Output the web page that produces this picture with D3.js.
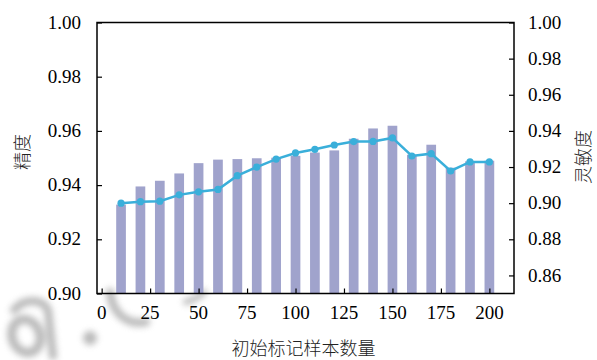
<!DOCTYPE html>
<html>
<head>
<meta charset="utf-8">
<script src="https://cdn.jsdelivr.net/npm/d3@7/dist/d3.min.js"></script>
</head>
<body style="margin:0">
<svg id="chart" width="597" height="360"></svg>
<script>
// Number of initially labelled samples
const sampleCounts = [10, 20, 30, 40, 50, 60, 70, 80, 90, 100, 110, 120, 130, 140, 150, 160, 170, 180, 190, 200];
// Precision (bars, left axis)
const precision = [0.9328, 0.9395, 0.9416, 0.9443, 0.9481, 0.9494, 0.9496, 0.9499, 0.9501, 0.9508,
                   0.9520, 0.9528, 0.9571, 0.9609, 0.9619, 0.9512, 0.9549, 0.9464, 0.9488, 0.9490];
// Sensitivity (line, right axis)
const sensitivity = [0.9000, 0.9008, 0.9011, 0.9046, 0.9063, 0.9076, 0.9152, 0.9200, 0.9244, 0.9278,
                     0.9298, 0.9322, 0.9341, 0.9342, 0.9361, 0.9261, 0.9274, 0.9178, 0.9228, 0.9228];
const xTicks = [0, 25, 50, 75, 100, 125, 150, 175, 200];
const leftTicks = [0.90, 0.92, 0.94, 0.96, 0.98, 1.00];
const rightTicks = [0.86, 0.88, 0.90, 0.92, 0.94, 0.96, 0.98, 1.00];
const xTitle = "初始标记样本数量";
const leftTitle = "精度";
const rightTitle = "灵敏度";

const svg = d3.select("#chart");
const m = { left: 97, right: 514, top: 22.5, bottom: 293.5 };

const x = d3.scaleLinear().domain([-2.4, 212.7]).range([m.left, m.right]);
const yL = d3.scaleLinear().domain([0.90, 1.00]).range([m.bottom, m.top]);
const yR = d3.scaleLinear().domain([0.85, 1.00]).range([m.bottom, m.top]);

const numFont = '"Times New Roman"';
const cjkFont = '"Noto Sans CJK SC"';
const barColor = "#a0a3cc";
const lineColor = "#3aafda";
const fmtX = d3.format("d");
const fmtY = d3.format(".2f");

// faint grey emblem in the lower-left corner
const defs = svg.append("defs");
defs.append("filter").attr("id", "soft")
  .attr("x", "-50%").attr("y", "-50%").attr("width", "200%").attr("height", "200%")
  .append("feGaussianBlur").attr("stdDeviation", 3);
const emblem = svg.append("g").attr("filter", "url(#soft)").attr("opacity", 0.6)
  .attr("stroke", "#8c8c8c").attr("fill", "none").attr("stroke-linecap", "round");
emblem.append("ellipse")
  .attr("cx", 26).attr("cy", 336).attr("rx", 14).attr("ry", 17)
  .attr("transform", "rotate(-20, 26, 336)")
  .attr("stroke-width", 9);
emblem.append("path").attr("d", "M14,310 C24,298 42,298 48,310 L53,356").attr("stroke-width", 8);
emblem.append("circle").attr("cx", 90).attr("cy", 338).attr("r", 7)
  .attr("fill", "#8c8c8c").attr("stroke", "none");
emblem.append("path").attr("d", "M110,292 C112,312 126,326 146,322").attr("stroke-width", 8);
emblem.append("path").attr("d", "M186,302 C194,300 200,296 204,292").attr("stroke-width", 6);

// bars
const bw = x(5) - x(0);
svg.append("g").selectAll("rect")
  .data(sampleCounts)
  .join("rect")
  .attr("x", (d) => x(d) - bw / 2)
  .attr("width", bw)
  .attr("y", (d, i) => yL(precision[i]))
  .attr("height", (d, i) => m.bottom - yL(precision[i]))
  .attr("fill", barColor);

// axes: tick marks from d3 axes, labels placed from the same scales
const tickLen = 5;
function ticksOnly(g) {
  g.select(".domain").remove();
  g.selectAll(".tick text").remove();
  g.selectAll(".tick line").attr("stroke", "#000").attr("stroke-width", 1.2);
}
svg.append("g").attr("transform", `translate(0,${m.bottom})`)
  .call(d3.axisBottom(x).tickValues(xTicks).tickSize(-tickLen)).call(ticksOnly);
svg.append("g").attr("transform", `translate(${m.left},0)`)
  .call(d3.axisLeft(yL).tickValues(leftTicks).tickSize(-tickLen)).call(ticksOnly);
svg.append("g").attr("transform", `translate(${m.right},0)`)
  .call(d3.axisRight(yR).tickValues(rightTicks).tickSize(-tickLen)).call(ticksOnly);

function numLabel(px, py, anchor, dy, str) {
  svg.append("text")
    .attr("x", px).attr("y", py).attr("dy", dy)
    .attr("text-anchor", anchor)
    .style("font-family", numFont).style("font-size", "19px")
    .attr("fill", "#000")
    .text(str);
}
xTicks.forEach((t) => numLabel(x(t), m.bottom + 12, "middle", "0.71em", fmtX(t)));
leftTicks.forEach((t) => numLabel(m.left - 16, yL(t), "end", "0.32em", fmtY(t)));
rightTicks.forEach((t) => numLabel(m.right + 14, yR(t), "start", "0.32em", fmtY(t)));

// frame
svg.append("rect")
  .attr("x", m.left).attr("y", m.top)
  .attr("width", m.right - m.left).attr("height", m.bottom - m.top)
  .attr("fill", "none").attr("stroke", "#000").attr("stroke-width", 1.5);

// sensitivity line
const line = d3.line().x((d) => x(d)).y((d, i) => yR(sensitivity[i]));
svg.append("path")
  .datum(sampleCounts)
  .attr("d", line)
  .attr("fill", "none").attr("stroke", lineColor).attr("stroke-width", 2.5);
svg.append("g").selectAll("circle")
  .data(sampleCounts)
  .join("circle")
  .attr("cx", (d) => x(d))
  .attr("cy", (d, i) => yR(sensitivity[i]))
  .attr("r", 3.6)
  .attr("fill", lineColor);

// titles
function title(text, transform) {
  svg.append("text")
    .attr("transform", transform)
    .attr("text-anchor", "middle")
    .style("font-family", cjkFont)
    .style("font-size", "18px").style("font-weight", 300)
    .attr("fill", "#222")
    .text(text);
}
title(xTitle, `translate(${(m.left + m.right) / 2 - 2},355)`);
title(leftTitle, "translate(29,152) rotate(-90)");
title(rightTitle, "translate(590,157) rotate(-90)");
</script>
</body>
</html>
